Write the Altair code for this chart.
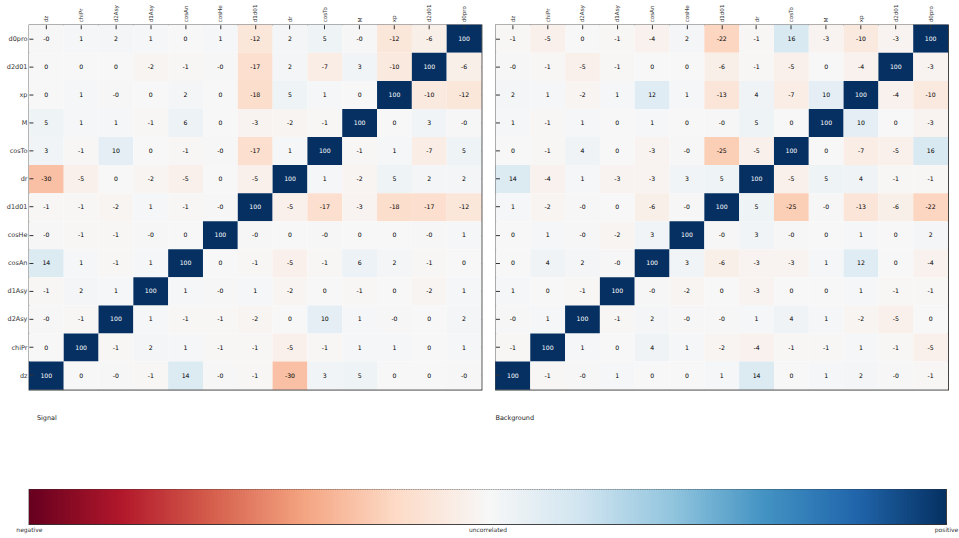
import altair as alt
import pandas as pd

FONT = "DejaVu Sans"

# Input variables, in column order (left to right)
variables = ["dz", "chiPr", "d2Asy", "d1Asy", "cosAn", "cosHe", "d1d01",
             "dr", "cosTo", "M", "xp", "d2d01", "d0pro"]
# Row order, top to bottom
rows_top = variables[::-1]

# Linear correlation coefficients in %, one row per variable (top to bottom)
signal = [
    [-0.4, 1, 2, 1, 0, 1, -12, 2, 5, -0.4, -12, -6, 100],      # d0pro
    [0, 0, 0, -2, -1, -0.4, -17, 2, -7, 3, -10, 100, -6],       # d2d01
    [0, 1, -0.4, 0, 2, 0, -18, 5, 1, 0, 100, -10, -12],         # xp
    [5, 1, 1, -1, 6, 0, -3, -2, -1, 100, 0, 3, -0.4],           # M
    [3, -1, 10, 0, -1, -0.4, -17, 1, 100, -1, 1, -7, 5],        # cosTo
    [-30, -5, 0, -2, -5, 0, -5, 100, 1, -2, 5, 2, 2],           # dr
    [-1, -1, -2, 1, -1, -0.4, 100, -5, -17, -3, -18, -17, -12], # d1d01
    [-0.4, -1, -1, -0.4, 0, 100, -0.4, 0, -0.4, 0, 0, -0.4, 1], # cosHe
    [14, 1, -1, 1, 100, 0, -1, -5, -1, 6, 2, -1, 0],            # cosAn
    [-1, 2, 1, 100, 1, -0.4, 1, -2, 0, -1, 0, -2, 1],           # d1Asy
    [-0.4, -1, 100, 1, -1, -1, -2, 0, 10, 1, -0.4, 0, 2],       # d2Asy
    [0, 100, -1, 2, 1, -1, -1, -5, -1, 1, 1, 0, 1],             # chiPr
    [100, 0, -0.4, -1, 14, -0.4, -1, -30, 3, 5, 0, 0, -0.4],    # dz
]

background = [
    [-1, -5, 0, -1, -4, 2, -22, -1, 16, -3, -10, -3, 100],      # d0pro
    [-0.4, -1, -5, -1, 0, 0, -6, -1, -5, 0, -4, 100, -3],       # d2d01
    [2, 1, -2, 1, 12, 1, -13, 4, -7, 10, 100, -4, -10],         # xp
    [1, -1, 1, 0, 1, 0, -0.4, 5, 0, 100, 10, 0, -3],            # M
    [0, -1, 4, 0, -3, -0.4, -25, -5, 100, 0, -7, -5, 16],       # cosTo
    [14, -4, 1, -3, -3, 3, 5, 100, -5, 5, 4, -1, -1],           # dr
    [1, -2, -0.4, 0, -6, -0.4, 100, 5, -25, -0.4, -13, -6, -22],# d1d01
    [0, 1, -0.4, -2, 3, 100, -0.4, 3, -0.4, 0, 1, 0, 2],        # cosHe
    [0, 4, 2, -0.4, 100, 3, -6, -3, -3, 1, 12, 0, -4],          # cosAn
    [1, 0, -1, 100, -0.4, -2, 0, -3, 0, 0, 1, -1, -1],          # d1Asy
    [-0.4, 1, 100, -1, 2, -0.4, -0.4, 1, 4, 1, -2, -5, 0],      # d2Asy
    [-1, 100, 1, 0, 4, 1, -2, -4, -1, -1, 1, -1, -5],           # chiPr
    [100, -1, -0.4, 1, 0, 0, 1, 14, 0, 1, 2, -0.4, -1],         # dz
]

# Diverging red-white-blue palette (ColorBrewer RdBu), negative to positive
rdbu_stops = [-100, -80, -60, -40, -20, 0, 20, 40, 60, 80, 100]
rdbu_colors = ["#67001f", "#b2182b", "#d6604d", "#f4a582", "#fddbc7",
               "#f7f7f7", "#d1e5f0", "#92c5de", "#4393c3", "#2166ac",
               "#053061"]


def long_form(matrix):
    recs = []
    for r, row in zip(rows_top, matrix):
        for c, v in zip(variables, row):
            recs.append({"row": r, "col": c, "v": v})
    return pd.DataFrame(recs)


cscale = alt.Scale(domain=rdbu_stops, range=rdbu_colors, interpolate="rgb")


def matrix_panel(matrix, title, show_labels, title_dx):
    base = alt.Chart(long_form(matrix)).transform_calculate(
        label="(datum.v < 0 ? '-' : '') + toString(abs(round(datum.v)))"
    )
    xs = alt.X("col:N", sort=variables,
               scale=alt.Scale(paddingInner=0, paddingOuter=0),
               axis=alt.Axis(orient="top", labelAngle=270, labelAlign="left",
                             labelBaseline="middle", labelFontSize=5.6,
                             labelFont=FONT, labelColor="#333",
                             labelPadding=3, offset=-4, tickSize=4,
                             tickColor="#333", domain=False, title=None))
    ys = alt.Y("row:N", sort=rows_top,
               scale=alt.Scale(paddingInner=0, paddingOuter=0),
               axis=alt.Axis(orient="left", labels=show_labels,
                             labelFontSize=6.5, labelFont=FONT,
                             labelColor="#333", labelPadding=2, offset=-4,
                             tickSize=4, tickColor="#333", domain=False,
                             title=None))
    ys_right = alt.Y("row:N", sort=rows_top,
                     axis=alt.Axis(orient="right", labels=False, offset=-4,
                                   tickSize=4, tickColor="#333",
                                   domain=False, title=None))
    rect = base.mark_rect().encode(
        x=xs, y=ys,
        color=alt.Color("v:Q", scale=cscale, legend=None),
    )
    text = base.mark_text(font=FONT, fontSize=6.2).encode(
        x=xs,
        y=ys_right,
        text="label:N",
        color=alt.condition("datum.v > 60", alt.value("white"),
                            alt.value("#000")),
    )
    return alt.layer(rect, text).resolve_axis(y="independent").properties(
        width=454, height=366,
        title=alt.TitleParams(title, orient="bottom", anchor="start",
                              frame="group", offset=25, dx=title_dx,
                              font=FONT, fontSize=6.5, fontWeight="normal",
                              color="#222"),
    )


left = matrix_panel(signal, "Signal", True, 8)
right = matrix_panel(background, "Background", False, 0)

cbar = alt.Chart(alt.sequence(-100, 100, 0.5, as_="v")).transform_calculate(
    v2="datum.v + 0.75"
).mark_rect(clip=True).encode(
    x=alt.X("v:Q",
            scale=alt.Scale(domain=[-100, 100], nice=False, zero=False),
            axis=alt.Axis(values=list(range(-100, 101, 20)),
                          labelExpr="datum.value == -100 ? 'negative' : "
                                    "datum.value == 0 ? 'uncorrelated' : "
                                    "datum.value == 100 ? 'positive' : ''",
                          offset=-3, tickSize=3, tickColor="#333",
                          domain=False, grid=False, title=None,
                          labelOverlap=False, labelFlush=False,
                          labelFontSize=6, labelFont=FONT, labelColor="#333",
                          labelPadding=2)),
    x2="v2:Q",
    color=alt.Color("v:Q", scale=cscale, legend=None),
).properties(width=920, height=35)

chart = alt.vconcat(
    alt.hconcat(left, right, spacing=10),
    cbar,
    spacing=66,
).properties(
    padding={"left": 5, "top": 2, "right": 0, "bottom": 0},
).configure_view(
    stroke="#333", strokeWidth=1.2,
)

chart.save("out.html", embed_options={"renderer": "svg", "actions": False})
